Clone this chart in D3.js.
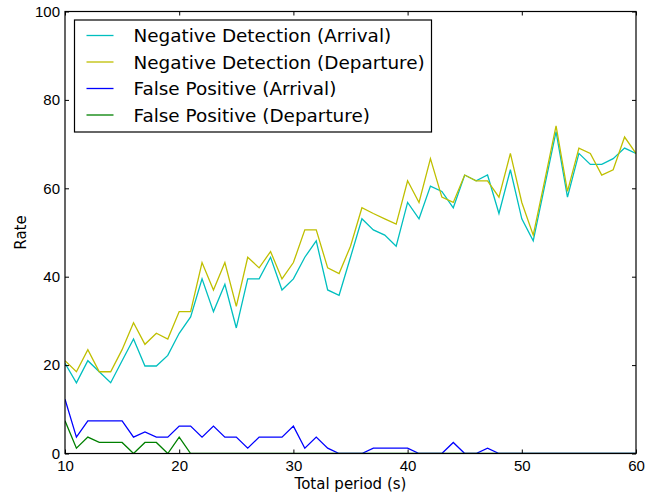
<!DOCTYPE html>
<html>
<head>
<meta charset="utf-8">
<script src="https://cdn.jsdelivr.net/npm/d3@7"></script>
<style>
  body { margin: 0; background: #fff; }
  svg { display: block; font-family: "DejaVu Sans", sans-serif; }
</style>
</head>
<body>
<div class="chart"></div>
<script>
// total period (s)
const periods = d3.range(10, 61);

const negArrival = [20.4, 16.0, 21.0, 18.5, 16.0, 21.0, 25.9, 19.8, 19.8, 22.2,
  27.2, 30.9, 39.5, 32.1, 38.3, 28.4, 39.5, 39.5, 44.4, 37.0,
  39.5, 44.4, 48.1, 37.0, 35.8, 44.4, 53.1, 50.6, 49.4, 46.9,
  56.8, 53.1, 60.5, 59.3, 55.6, 63.0, 61.7, 63.0, 54.3, 64.2,
  53.1, 48.1, 60.5, 72.8, 58.0, 67.9, 65.4, 65.4, 66.7, 69.1, 67.9];

const negDeparture = [21.0, 18.5, 23.5, 18.5, 18.5, 23.5, 29.6, 24.7, 27.2, 25.9,
  32.1, 32.1, 43.2, 37.0, 43.2, 33.3, 44.4, 42.0, 45.7, 39.5,
  43.2, 50.6, 50.6, 42.0, 40.7, 46.9, 55.6, 54.3, 53.1, 51.9,
  61.7, 56.8, 66.7, 58.0, 56.8, 63.0, 61.7, 61.7, 58.0, 67.9,
  56.8, 49.4, 61.7, 74.1, 59.3, 69.1, 67.9, 63.0, 64.2, 71.6, 67.9];

const fpArrival = [12.3, 3.7, 7.4, 7.4, 7.4, 7.4, 3.7, 4.9, 3.7, 3.7,
  6.2, 6.2, 3.7, 6.2, 3.7, 3.7, 1.2, 3.7, 3.7, 3.7,
  6.2, 1.2, 3.7, 1.2, 0, 0, 0, 1.2, 1.2, 1.2,
  1.2, 0, 0, 0, 2.5, 0, 0, 1.2, 0, 0,
  0, 0, 0, 0, 0, 0, 0, 0, 0, 0, 0];

const fpDeparture = [7.4, 1.2, 3.7, 2.5, 2.5, 2.5, 0, 2.5, 2.5, 0,
  3.7, 0, 0, 0, 0, 0, 0, 0, 0, 0,
  0, 0, 0, 0, 0, 0, 0, 0, 0, 0,
  0, 0, 0, 0, 0, 0, 0, 0, 0, 0,
  0, 0, 0, 0, 0, 0, 0, 0, 0, 0, 0];

const seriesNames = ["Negative Detection (Arrival)", "Negative Detection (Departure)",
  "False Positive (Arrival)", "False Positive (Departure)"];
const seriesColors = ["#00bfbf", "#bfbf00", "#0000ff", "#008000"];
const xTicks = [10, 20, 30, 40, 50, 60];
const yTicks = [0, 20, 40, 60, 80, 100];

const series = [negArrival, negDeparture, fpArrival, fpDeparture];

var margin = {top: 11.5, right: 27, bottom: 39.5, left: 65};
var width = 663 - margin.left - margin.right,
    height = 493 - margin.top - margin.bottom;

const svg = d3.select(".chart").append("svg")
    .attr("width", 663)
    .attr("height", 493)
    .append("g")
    .attr("transform", "translate(" + margin.left + "," + margin.top + ")");

const xScale = d3.scaleLinear().domain([10, 60]).range([0, width]);
const yScale = d3.scaleLinear().domain([0, 100]).range([height, 0]);

svg.append("defs").append("clipPath").attr("id", "clip")
    .append("rect").attr("width", width).attr("height", height);

const line = d3.line()
    .x((d, i) => xScale(periods[i]))
    .y(d => yScale(d));

const plot = svg.append("g").attr("clip-path", "url(#clip)");
series.forEach((s, k) => {
    plot.append("path")
        .datum(s)
        .attr("fill", "none")
        .attr("stroke", seriesColors[k])
        .attr("stroke-width", 1.3)
        .attr("stroke-linejoin", "miter")
        .attr("d", line);
});

// axes, ticks pointing inward like matplotlib
function styleAxis(g) {
    g.select(".domain").remove();
    g.selectAll(".tick line").attr("stroke", "#000").attr("stroke-width", 1);
    g.selectAll("text").attr("fill", "#000").style("font-size", "15px");
}

svg.append("g")
    .attr("transform", `translate(0, ${height})`)
    .call(d3.axisBottom(xScale).tickValues(xTicks).tickSizeInner(-4).tickSizeOuter(0).tickPadding(7))
    .call(styleAxis);
svg.append("g")
    .call(d3.axisLeft(yScale).tickValues(yTicks).tickSizeInner(-4).tickSizeOuter(0).tickPadding(5))
    .call(styleAxis);
svg.append("g")
    .call(d3.axisTop(xScale).tickValues(xTicks).tickSizeInner(-4).tickSizeOuter(0).tickFormat(""))
    .call(styleAxis);
svg.append("g")
    .attr("transform", `translate(${width}, 0)`)
    .call(d3.axisRight(yScale).tickValues(yTicks).tickSizeInner(-4).tickSizeOuter(0).tickFormat(""))
    .call(styleAxis);

svg.append("rect")
    .attr("width", width).attr("height", height)
    .attr("fill", "none").attr("stroke", "#000").attr("stroke-width", 1.2);

// axis labels
svg.append("text")
    .attr("x", width / 2).attr("y", height + 35)
    .attr("text-anchor", "middle")
    .style("font-size", "15px")
    .text("Total period (s)");
svg.append("text")
    .attr("transform", `translate(${-39}, ${height / 2}) rotate(-90)`)
    .attr("text-anchor", "middle")
    .style("font-size", "15px")
    .text("Rate");

// legend
const legend = svg.append("g").attr("transform", "translate(9.5, 8.5)");
legend.append("rect")
    .attr("width", 357).attr("height", 112)
    .attr("fill", "#fff").attr("stroke", "#000").attr("stroke-width", 1.2);
seriesNames.forEach((name, k) => {
    const y = 15.5 + k * 26.5;
    legend.append("line")
        .attr("x1", 12).attr("x2", 39).attr("y1", y).attr("y2", y)
        .attr("stroke", seriesColors[k]).attr("stroke-width", 1.3);
    legend.append("text")
        .attr("x", 59).attr("y", y).attr("dy", "0.36em")
        .style("font-size", "18.4px")
        .text(name);
});
</script>
</body>
</html>
